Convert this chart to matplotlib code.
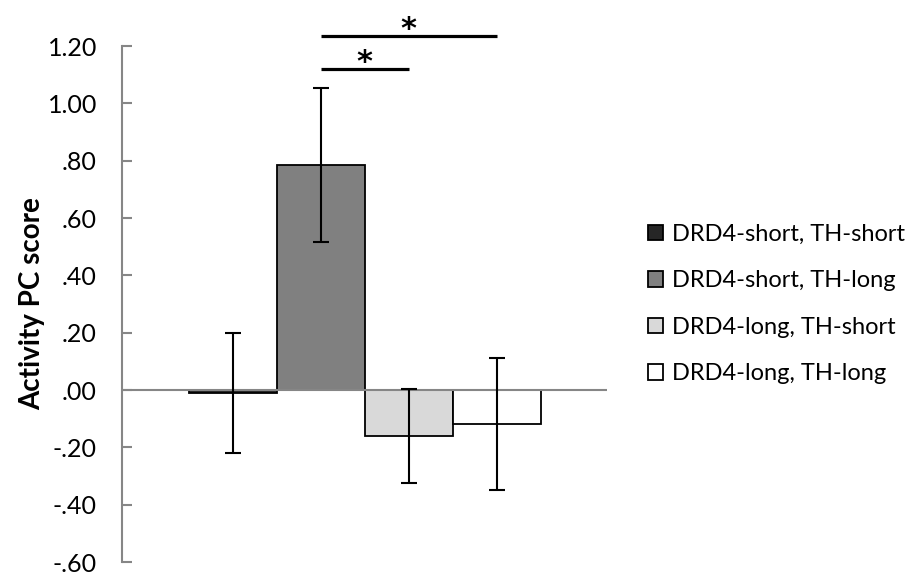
import numpy as np
import matplotlib
matplotlib.use('Agg')
import matplotlib.pyplot as plt

plt.rcParams['font.family'] = ['Lato', 'DejaVu Sans']

groups = ['DRD4-short, TH-short', 'DRD4-short, TH-long', 'DRD4-long, TH-short', 'DRD4-long, TH-long']
values = [-0.01, 0.785, -0.16, -0.12]
errors = [0.21, 0.27, 0.163, 0.23]
colors = ['#262626', '#808080', '#d9d9d9', '#ffffff']
yticks = [-0.6, -0.4, -0.2, 0.0, 0.2, 0.4, 0.6, 0.8, 1.0, 1.2]
ytick_labels = ['-.60', '-.40', '-.20', '.00', '.20', '.40', '.60', '.80', '1.00', '1.20']
# significance brackets: (from bar, to bar, height)
sig = [(1, 3, 1.235), (1, 2, 1.12)]

fig = plt.figure(figsize=(9.09, 5.75), dpi=100)
ax = fig.add_axes([0.1342, 0.0226, 0.5336, 0.8974])

x = np.arange(len(values))
for i in range(len(values)):
    ax.bar(x[i], values[i], width=1.0, color=colors[i], edgecolor='black',
           linewidth=1.3, label=groups[i], zorder=2)
ax.errorbar(x, values, yerr=errors, fmt='none', ecolor='black', elinewidth=1.5,
            capsize=6, capthick=1.5, zorder=4)

ax.axhline(0, color='#868686', lw=1.5, zorder=3)

for a, b, h in sig:
    ax.plot([a, b], [h, h], color='black', lw=2.3, clip_on=False, solid_capstyle='butt')
    ax.text((a + b) / 2, h + 0.024, '*', ha='center', va='center',
            fontsize=22, fontweight='bold', family='DejaVu Sans')

ax.set_xlim(-1.256, 4.256)
ax.set_ylim(-0.6, 1.2)
ax.set_yticks(yticks)
ax.set_yticklabels(ytick_labels, fontsize=18)
ax.set_xticks([])
for s in ['top', 'right', 'bottom']:
    ax.spines[s].set_visible(False)
ax.spines['left'].set_color('#868686')
ax.spines['left'].set_linewidth(1.5)
ax.tick_params(axis='y', direction='in', length=7, width=1.5, color='#868686', pad=18)
ax.set_ylabel('Activity PC score', fontsize=20, fontweight='bold', labelpad=2)

ax.legend(loc='center left', bbox_to_anchor=(1.04, 0.5), frameon=False, fontsize=17,
          handlelength=0.64, handleheight=0.64, handletextpad=0.38, labelspacing=1.08)

fig.savefig('out.png', dpi=100)
